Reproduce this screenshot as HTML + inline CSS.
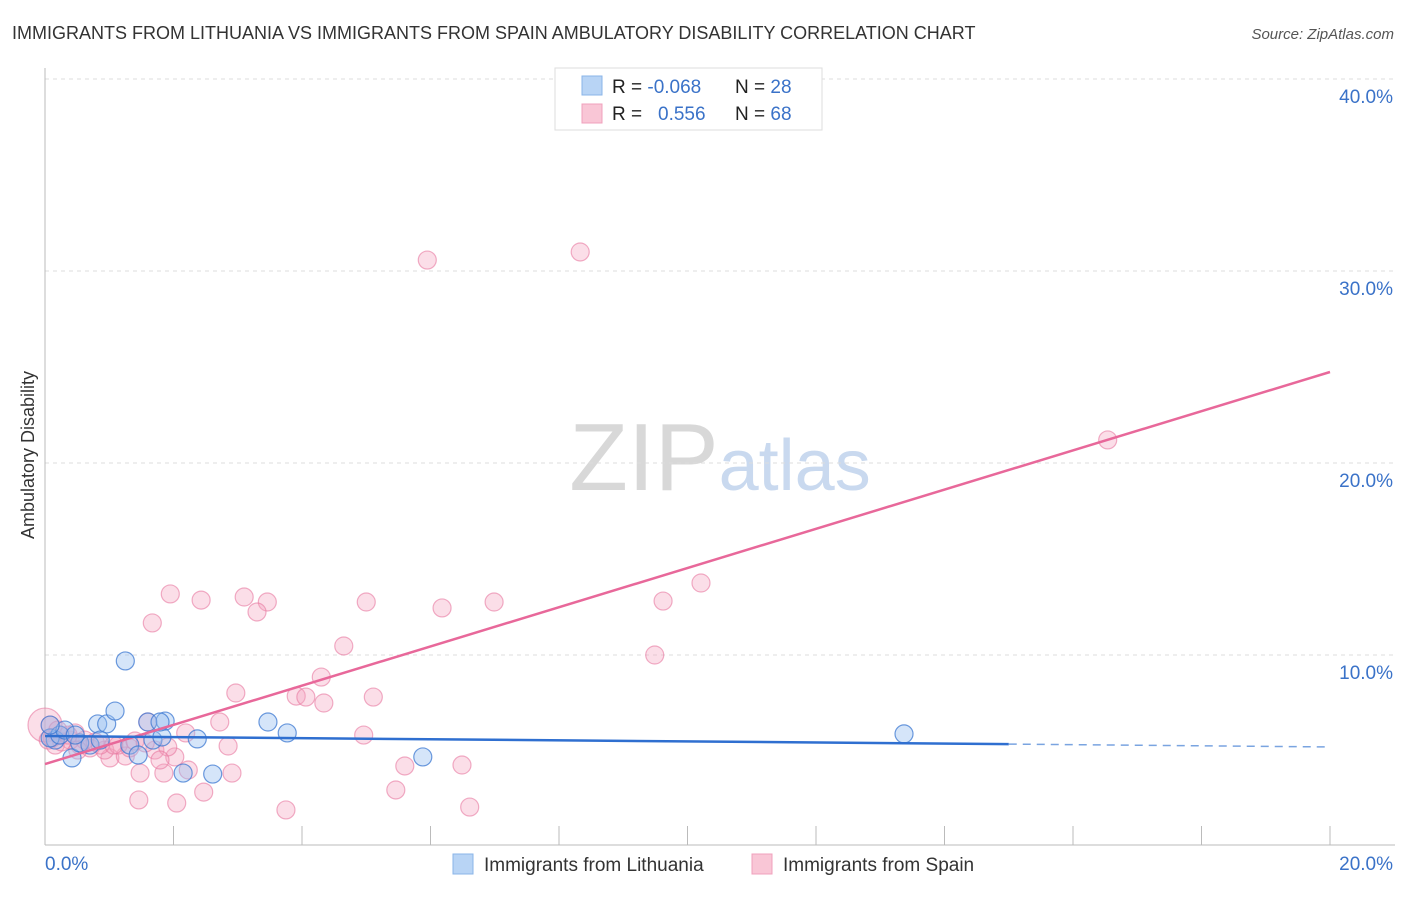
<!DOCTYPE html>
<html><head><meta charset="utf-8"><style>
body{margin:0;background:#fff;font-family:"Liberation Sans",sans-serif;}
svg text{font-family:"Liberation Sans",sans-serif;}
</style></head><body>
<svg id="chart" width="1406" height="892" xmlns="http://www.w3.org/2000/svg">
<text x="12" y="39" font-size="18" fill="#333">IMMIGRANTS FROM LITHUANIA VS IMMIGRANTS FROM SPAIN AMBULATORY DISABILITY CORRELATION CHART</text>
<text x="1394" y="39" font-size="15" fill="#555" text-anchor="end" font-style="italic">Source: ZipAtlas.com</text>
<text x="720" y="490" font-size="96" fill="#ddd" text-anchor="middle" font-family="Liberation Serif"><tspan fill="#d8d8d8">ZIP</tspan><tspan fill="#c9d9ef" font-family="Liberation Sans" font-size="72">atlas</tspan></text>
<text x="34" y="455" font-size="18" fill="#333" text-anchor="middle" transform="rotate(-90 34 455)">Ambulatory Disability</text>
<g id="grid"></g><g id="pts"></g><g id="lines"></g>
<g>
<rect x="555" y="68" width="267" height="62" fill="#fff" stroke="#ddd"/>
<rect x="582" y="76" width="20" height="19" fill="#b8d4f5" stroke="#8ab4e8"/>
<rect x="582" y="104" width="20" height="19" fill="#f9c6d6" stroke="#f0a0bc"/>
<text x="612" y="93" font-size="19" fill="#222">R = <tspan fill="#3a72c8">-0.068</tspan><tspan x="735">N = </tspan><tspan fill="#3a72c8">28</tspan></text>
<text x="612" y="120" font-size="19" fill="#222">R = <tspan x="658" fill="#3a72c8">0.556</tspan><tspan x="735">N = </tspan><tspan fill="#3a72c8">68</tspan></text>
</g>
<g>
<rect x="453" y="854" width="20" height="20" fill="#b8d4f5" stroke="#8ab4e8"/>
<text x="484" y="871" font-size="19" fill="#333">Immigrants from Lithuania</text>
<rect x="752" y="854" width="20" height="20" fill="#f9c6d6" stroke="#f0a0bc"/>
<text x="783" y="871" font-size="19" fill="#333">Immigrants from Spain</text>
</g>
</svg>
<script>
const xTicks=[0,20];
const yTicks=[10,20,30,40];
const blueX=[0.16,0.42,0.82,0.96,1.09,1.25,1.60,1.68,1.82,1.87,2.15,2.37,2.61,3.47,3.77,5.88,13.37,0.08,0.23,0.54,0.70,1.32,1.45,0.86,0.31,0.08,1.79,0.47];
const blueY=[5.57,4.64,6.41,6.41,7.08,9.69,6.51,5.57,5.73,6.56,3.85,5.63,3.80,6.51,5.94,4.69,5.89,5.68,5.83,5.42,5.31,5.31,4.79,5.57,6.09,6.35,6.51,5.83];
const pinkX=[5.95,8.33,16.54,10.21,9.62,6.99,6.18,5.00,3.46,3.10,3.30,2.43,1.95,1.67,4.65,9.49,4.30,3.91,4.06,4.34,5.11,2.97,2.72,1.60,2.19,2.85,4.96,5.60,6.49,5.46,6.61,3.75,2.91,2.47,2.05,1.46,2.23,1.85,1.48,1.01,1.25,1.71,0.93,0.70,0.54,0.39,0.23,0.08,0.0,0.05,0.16,0.26,0.47,0.62,0.78,1.14,1.32,0.86,1.40,1.56,2.02,1.91,1.79,1.07,0.36,0.20,0.51,0.11];
const pinkY=[30.57,30.99,21.20,13.75,12.81,12.76,12.45,12.76,12.76,13.02,12.24,12.86,13.18,11.67,10.47,10.00,8.85,7.86,7.81,7.50,7.81,8.02,6.51,6.51,5.94,5.26,5.83,4.22,4.27,2.97,2.08,1.93,3.85,2.86,2.29,2.45,4.01,3.85,3.85,4.64,4.74,5.05,5.05,5.16,5.31,5.57,5.83,6.35,6.35,5.57,5.31,5.47,5.94,5.57,5.47,5.31,5.16,5.31,5.52,5.42,4.69,5.21,4.53,5.31,5.83,6.09,5.05,5.68];
const blueTrend=[5.78,5.36,5.21];
const pinkTrend=[4.32,24.74];
const X=v=>45+v*64.25, Y=v=>847-v*19.2;
const NS="http://www.w3.org/2000/svg";
function mk(t,a,p){const e=document.createElementNS(NS,t);for(const k in a)e.setAttribute(k,a[k]);p.appendChild(e);return e;}
const grid=document.getElementById('grid');
yTicks.forEach(t=>{
 const l=mk('line',{x1:45,x2:1393,y1:Y(t),y2:Y(t),stroke:'#ddd','stroke-dasharray':'4,4'},grid);
 
 
 const tx=mk('text',{x:1393,y:Y(t)+24,'font-size':19,fill:'#3a72c8','text-anchor':'end'},grid);
 tx.textContent=t.toFixed(1)+'%';
 
 
});
mk('line',{x1:45,x2:45,y1:68,y2:845,stroke:'#bbb'},grid);
mk('line',{x1:45,x2:1395,y1:845,y2:845,stroke:'#bbb'},grid);
for(let k=1;k<=10;k++){mk('line',{x1:X(k*2),x2:X(k*2),y1:826,y2:845,stroke:'#bbb'},grid);}
xTicks.forEach((t,i)=>{
 const tx=mk('text',{x:i?1393:45,y:870,'font-size':19,fill:'#3a72c8','text-anchor':i?'end':'start'},grid);
 tx.textContent=t.toFixed(1)+'%';
 
 
});
const pts=document.getElementById('pts');
pinkX.forEach((v,i)=>{
 const c=mk('circle',{cx:X(v),cy:Y(pinkY[i]),r:(i==48?17:9),fill:'rgba(244,160,188,0.35)',stroke:'rgba(232,120,160,0.6)','stroke-width':1.2},pts);
 
 
});
blueX.forEach((v,i)=>{
 const c=mk('circle',{cx:X(v),cy:Y(blueY[i]),r:9,fill:'rgba(150,190,240,0.4)',stroke:'rgba(60,120,210,0.75)','stroke-width':1.2},pts);
 
 
});
const lines=document.getElementById('lines');
const p=mk('line',{x1:X(0),y1:Y(pinkTrend[0]),x2:X(20),y2:Y(pinkTrend[1]),stroke:'#e8689a','stroke-width':2.5},lines);


const b=mk('line',{x1:X(0),y1:Y(blueTrend[0]),x2:X(15),y2:Y(blueTrend[1]),stroke:'#2f6fd0','stroke-width':2.5},lines);


const bd=mk('line',{x1:X(15),y1:Y(blueTrend[1]),x2:X(20),y2:Y(blueTrend[2]),stroke:'#7aa4e0','stroke-width':1.5,'stroke-dasharray':'8,6'},lines);


</script>
</body></html>
